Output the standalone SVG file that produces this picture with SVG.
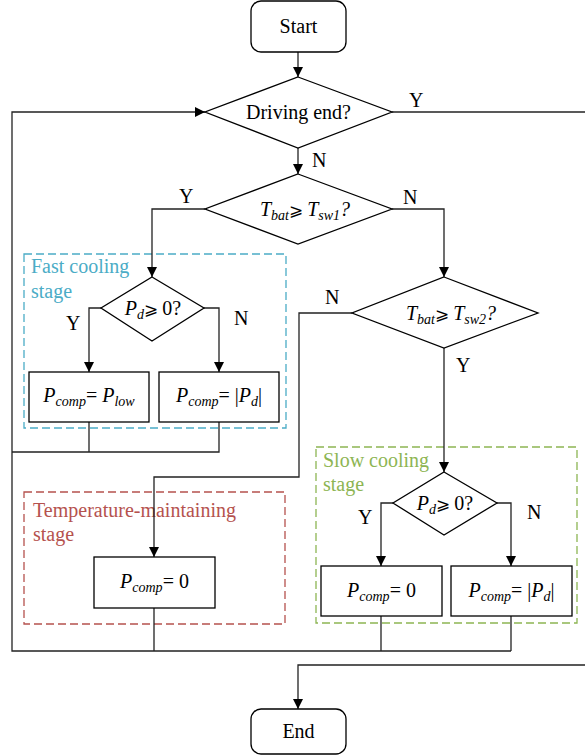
<svg xmlns="http://www.w3.org/2000/svg" width="585" height="755" viewBox="0 0 585 755" font-family="Liberation Serif, Times New Roman, serif" font-size="20">
<style>
.i{font-style:italic}
.sub{font-size:14px;font-style:italic}
.ge{font-style:normal;font-size:17px}
.shape{fill:#fff;stroke:#000;stroke-width:1.3}
.line{fill:none;stroke:#222;stroke-width:1.3}
.dash{fill:none;stroke-width:1.3;stroke-dasharray:8,4}
</style>
<defs>
<marker id="arr" viewBox="0 0 10 10" refX="10" refY="5" markerWidth="10" markerHeight="11" markerUnits="userSpaceOnUse" orient="auto">
<path d="M0,0 L10,5 L0,10 z" fill="#000"/>
</marker>
</defs>
<rect width="585" height="755" fill="#fff"/>

<g id="fast-stage">
<rect class="dash" x="24" y="254" width="262" height="174" stroke="#4BACC6"/>
<text x="31" y="273" fill="#4BACC6" font-family="Liberation Serif">Fast cooling</text>
<text x="31" y="298" fill="#4BACC6" font-family="Liberation Serif">stage</text>
</g>
<g id="temp-stage">
<rect class="dash" x="24" y="492" width="261" height="132" stroke="#B5524E"/>
<text x="33" y="517" fill="#B5524E" font-family="Liberation Serif">Temperature-maintaining</text>
<text x="33" y="541" fill="#B5524E" font-family="Liberation Serif">stage</text>
</g>
<g id="slow-stage">
<rect class="dash" x="316" y="447" width="261" height="176" stroke="#8DB553"/>
<text x="323" y="467" fill="#8DB553" font-family="Liberation Serif">Slow cooling</text>
<text x="323" y="491" fill="#8DB553" font-family="Liberation Serif">stage</text>
</g>

<g id="connectors">
<path class="line" d="M298,52 V77" marker-end="url(#arr)"/>
<path class="line" d="M511,651 H12 V112 H205" marker-end="url(#arr)"/>
<path class="line" d="M89,422 V452 M219,422 V452 H12"/>
<path class="line" d="M392,112 H585"/>
<path class="line" d="M298,148 V174" marker-end="url(#arr)"/>
<path class="line" d="M205,209 H152 V277" marker-end="url(#arr)"/>
<path class="line" d="M392,209 H444 V277" marker-end="url(#arr)"/>
<path class="line" d="M101,308 H89 V372" marker-end="url(#arr)"/>
<path class="line" d="M204,308 H219 V372" marker-end="url(#arr)"/>
<path class="line" d="M352,313 H299 V477 H154 V557" marker-end="url(#arr)"/>
<path class="line" d="M444,348 V472" marker-end="url(#arr)"/>
<path class="line" d="M393,503 H381 V566" marker-end="url(#arr)"/>
<path class="line" d="M497,503 H511 V566" marker-end="url(#arr)"/>
<path class="line" d="M381,616 V651 M511,616 V651 M154,608 V651"/>
<path class="line" d="M585,665 H298 V709" marker-end="url(#arr)"/>
<text x="409" y="107">Y</text>
<text x="312" y="167">N</text>
<text x="179" y="203">Y</text>
<text x="403" y="204">N</text>
<text x="66" y="330">Y</text>
<text x="234" y="325">N</text>
<text x="325" y="304">N</text>
<text x="456" y="372">Y</text>
<text x="358" y="524">Y</text>
<text x="527" y="519">N</text>
</g>

<g id="start">
<rect class="shape" x="251" y="1" width="95" height="51" rx="10"/>
<text x="298.5" y="33" text-anchor="middle">Start</text>
</g>
<g id="d-driving">
<polygon class="shape" points="298,77 392,112 298,148 205,112"/>
<text x="298.5" y="119" text-anchor="middle">Driving end?</text>
</g>
<g id="d-tsw1">
<polygon class="shape" points="298,174 392,209 298,244 205,209"/>
<text class="i" x="305" y="216" text-anchor="middle">T<tspan class="sub" dy="4">bat</tspan><tspan class="ge" dy="-4">⩾ </tspan>T<tspan class="sub" dy="4">sw1</tspan><tspan dy="-4">?</tspan></text>
</g>
<g id="d-fast">
<polygon class="shape" points="152,277 204,308 152,341 101,308"/>
<text x="153" y="315" text-anchor="middle"><tspan class="i">P</tspan><tspan class="sub" dy="4">d</tspan><tspan class="ge" dy="-4">⩾ </tspan>0?</text>
</g>
<g id="fast-low">
<rect class="shape" x="29" y="372" width="120" height="50"/>
<text x="89" y="402" text-anchor="middle"><tspan class="i">P</tspan><tspan class="sub" dy="4">comp</tspan><tspan dy="-4">= </tspan><tspan class="i">P</tspan><tspan class="sub" dy="4">low</tspan></text>
</g>
<g id="fast-abs">
<rect class="shape" x="159" y="372" width="120" height="50"/>
<text x="219" y="402" text-anchor="middle"><tspan class="i">P</tspan><tspan class="sub" dy="4">comp</tspan><tspan dy="-4">= |</tspan><tspan class="i">P</tspan><tspan class="sub" dy="4">d</tspan><tspan dy="-4">|</tspan></text>
</g>
<g id="d-tsw2">
<polygon class="shape" points="444,277 538,313 444,348 352,313"/>
<text class="i" x="451" y="320" text-anchor="middle">T<tspan class="sub" dy="4">bat</tspan><tspan class="ge" dy="-4">⩾ </tspan>T<tspan class="sub" dy="4">sw2</tspan><tspan dy="-4">?</tspan></text>
</g>
<g id="temp-zero">
<rect class="shape" x="94" y="557" width="121" height="51"/>
<text x="154.5" y="588" text-anchor="middle"><tspan class="i">P</tspan><tspan class="sub" dy="4">comp</tspan><tspan dy="-4">= 0</tspan></text>
</g>
<g id="d-slow">
<polygon class="shape" points="444,472 497,503 444,535 393,503"/>
<text x="445" y="510" text-anchor="middle"><tspan class="i">P</tspan><tspan class="sub" dy="4">d</tspan><tspan class="ge" dy="-4">⩾ </tspan>0?</text>
</g>
<g id="slow-zero">
<rect class="shape" x="321" y="566" width="121" height="50"/>
<text x="381.5" y="597" text-anchor="middle"><tspan class="i">P</tspan><tspan class="sub" dy="4">comp</tspan><tspan dy="-4">= 0</tspan></text>
</g>
<g id="slow-abs">
<rect class="shape" x="451" y="566" width="121" height="50"/>
<text x="511.5" y="597" text-anchor="middle"><tspan class="i">P</tspan><tspan class="sub" dy="4">comp</tspan><tspan dy="-4">= |</tspan><tspan class="i">P</tspan><tspan class="sub" dy="4">d</tspan><tspan dy="-4">|</tspan></text>
</g>
<g id="end">
<rect class="shape" x="251" y="709" width="95" height="45" rx="10"/>
<text x="298.5" y="738" text-anchor="middle">End</text>
</g>
</svg>
